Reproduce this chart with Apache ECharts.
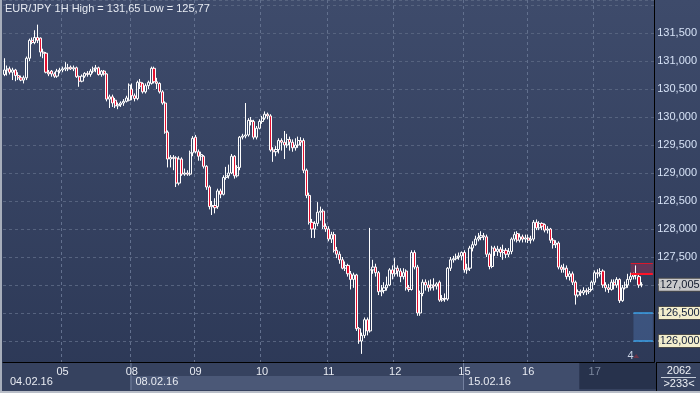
<!DOCTYPE html>
<html>
<head>
<meta charset="utf-8">
<script src="https://cdn.jsdelivr.net/npm/echarts@6/dist/echarts.min.js"></script>
<style>
html,body{margin:0;padding:0;background:#33405f;}
#c{width:700px;height:393px;}
</style>
</head>
<body>
<div id="c"></div>
<script>
// ---------- DATA ----------
const titleText = 'EUR/JPY 1H High = 131,65 Low = 125,77';
const dayNames = ['04','05','08','09','10','11','12','15','16','17'];
const weekStarts = ['04','08','15'];
const weekLabels = ['04.02.16','08.02.16','15.02.16'];
const paddingSlots = 4;
const lastPrice = 127.005;
const levelLines = [126.5, 126.0];
const redZone = [127.39, 127.2];
const footerTop = '2062';
const footerBottom = '>233<';
const markerCount = '4';

// each row: [open, close, low, high]
const day04 = [
[130.76,130.84,130.73,131.05],[130.84,130.86,130.74,130.92],[130.86,130.80,130.76,130.90],
[130.80,130.84,130.66,130.88],[130.84,130.74,130.64,130.86],[130.74,130.70,130.66,130.80],
[130.70,130.66,130.64,130.74],[130.66,130.70,130.60,130.74],[130.70,131.05,130.66,131.08],
[131.05,131.37,131.00,131.40],[131.37,131.33,131.30,131.42],[131.33,131.42,131.30,131.55],
[131.42,131.37,131.32,131.65],[131.41,131.16,131.08,131.42],[131.16,131.14,131.05,131.22],
[131.14,130.80,130.78,131.16],[130.80,130.77,130.73,130.84],[130.82,130.77,130.72,130.84],
[130.77,130.73,130.70,130.80],[130.73,130.82,130.70,130.86],[130.82,130.84,130.78,130.88]];
const day05 = [
[130.84,130.86,130.80,130.90],[130.86,130.88,130.82,130.98],[130.88,130.86,130.82,130.95],
[130.89,130.86,130.84,130.92],[130.86,130.88,130.82,130.92],[130.88,130.72,130.70,130.90],
[130.72,130.64,130.54,130.74],[130.64,130.73,130.62,130.76],[130.73,130.78,130.70,130.80],
[130.78,130.76,130.72,130.82],[130.76,130.82,130.72,130.86],[130.82,130.86,130.78,130.90],
[130.86,130.88,130.80,130.93],[130.88,130.76,130.74,130.90],[130.76,130.82,130.72,130.84],
[130.82,130.77,130.74,130.84],[130.77,130.32,130.28,130.78],[130.32,130.36,130.16,130.40],
[130.36,130.25,130.18,130.40],[130.30,130.20,130.16,130.34],[130.20,130.22,130.14,130.26],
[130.22,130.25,130.18,130.28],[130.25,130.28,130.20,130.32],[130.28,130.34,130.26,130.38],
[130.30,130.57,130.28,130.60]];
const day08 = [
[130.50,130.38,130.30,130.60],[130.38,130.33,130.28,130.42],[130.33,130.62,130.30,130.65],
[130.62,130.55,130.50,130.68],[130.60,130.45,130.42,130.62],[130.45,130.56,130.42,130.60],
[130.56,130.62,130.50,130.65],[130.60,130.87,130.58,130.90],[130.87,130.63,130.60,130.90],
[130.63,130.60,130.50,130.70],[130.60,130.45,130.42,130.62],[130.45,130.25,130.22,130.48],
[130.25,129.73,129.70,130.28],[129.73,129.25,129.10,129.76],[129.25,129.28,129.10,129.32],
[129.28,129.26,129.05,129.32],[129.27,128.82,128.75,129.30],[128.82,129.25,128.78,129.30],
[129.25,128.98,128.95,129.28],[128.98,129.00,128.95,129.08],[129.00,128.98,128.95,129.05],
[128.98,129.36,128.95,129.40],[129.36,129.62,129.30,129.66]];
const day09 = [
[129.64,129.38,129.35,129.68],[129.38,129.30,129.22,129.42],[129.30,129.33,129.22,129.38],
[129.30,129.12,129.08,129.32],[129.12,128.75,128.70,129.14],[128.75,128.40,128.35,128.78],
[128.40,128.42,128.25,128.50],[128.42,128.38,128.28,128.55],[128.40,128.68,128.36,128.72],
[128.68,128.62,128.55,128.72],[128.62,128.92,128.60,128.96],[128.92,128.95,128.88,129.11],
[128.95,129.00,128.90,129.15],[129.00,129.30,128.98,129.34],[129.30,128.95,128.90,129.32],
[128.95,129.10,128.92,129.14],[129.10,129.64,129.05,129.66],[129.64,129.66,129.60,129.70],
[129.66,129.68,129.62,130.25],[129.68,129.94,129.65,129.98],[129.94,129.92,129.85,130.00],
[129.92,129.64,129.60,129.95],[129.64,129.80,129.60,129.84],[129.80,129.92,129.78,129.96]];
const day10 = [
[129.92,129.98,129.88,130.02],[129.98,130.05,129.95,130.10],[130.05,130.02,129.96,130.08],
[130.02,129.41,129.38,130.05],[129.41,129.38,129.20,129.46],[129.38,129.42,129.30,129.48],
[129.42,129.58,129.35,129.62],[129.58,129.55,129.40,129.62],[129.55,129.50,129.25,129.75],
[129.50,129.60,129.45,129.70],[129.60,129.55,129.40,129.65],[129.55,129.45,129.38,129.60],
[129.45,129.50,129.40,129.62],[129.50,129.58,129.45,129.65],[129.58,129.55,129.48,129.64],
[129.58,129.05,129.00,129.62],[129.05,128.60,128.55,129.08],[128.60,128.12,128.08,128.65],
[128.12,128.00,127.84,128.18],[128.00,128.10,127.84,128.14],[128.10,128.30,128.05,128.48],
[128.30,128.32,128.15,128.40],[128.32,128.05,128.00,128.36],[128.05,128.00,127.95,128.10]];
const day11 = [
[128.00,127.82,127.78,128.05],[127.82,127.90,127.75,127.95],[127.90,127.62,127.58,127.95],
[127.62,127.55,127.48,127.68],[127.55,127.45,127.38,127.60],[127.45,127.30,127.28,127.50],
[127.30,127.35,127.25,127.42],[127.35,127.20,127.15,127.38],[127.20,127.10,126.92,127.25],
[127.10,127.18,126.95,127.22],[127.18,126.22,126.18,127.20],[126.22,126.00,125.95,126.25],
[126.00,126.10,125.77,126.15],[126.10,126.38,126.05,126.42],[126.38,126.18,126.10,126.42],
[126.18,127.27,126.15,128.02],[127.27,127.32,127.20,127.45],[127.32,127.22,127.15,127.38],
[127.22,126.88,126.82,127.25],[126.88,126.90,126.80,127.00],[126.90,126.95,126.85,127.05],
[126.95,127.00,126.90,127.15],[127.00,127.27,126.98,127.30],[127.27,127.20,127.10,127.35]];
const day12 = [
[127.20,127.30,127.15,127.48],[127.30,127.25,127.15,127.35],[127.25,127.15,127.05,127.30],
[127.15,127.22,127.10,127.30],[127.25,126.95,126.90,127.28],[126.95,126.92,126.88,127.00],
[126.92,127.58,126.90,127.62],[127.58,127.32,127.28,127.62],[127.32,126.50,126.45,127.36],
[126.50,126.85,126.45,126.90],[126.85,127.05,126.80,127.10],[127.05,127.00,126.90,127.10],
[127.00,126.95,126.88,127.08],[126.95,127.00,126.90,127.10],[127.00,126.98,126.90,127.12],
[126.98,127.02,126.92,127.05],[127.05,126.73,126.70,127.08],[126.73,126.76,126.70,126.82],
[126.76,126.75,126.70,126.85],[126.75,127.30,126.72,127.32],[127.30,127.45,127.25,127.50],
[127.45,127.47,127.40,127.52],[127.47,127.50,127.44,127.56],[127.50,127.52,127.45,127.58],
[127.52,127.58,127.44,127.60]];
const day15 = [
[127.58,127.27,127.22,127.62],[127.27,127.30,127.20,127.38],[127.30,127.66,127.25,127.70],
[127.66,127.72,127.60,127.78],[127.72,127.82,127.70,127.88],[127.82,127.85,127.78,127.93],
[127.85,127.88,127.80,127.96],[127.88,127.86,127.80,127.93],[127.86,127.55,127.50,127.90],
[127.55,127.33,127.28,127.58],[127.33,127.66,127.30,127.70],[127.66,127.60,127.52,127.70],
[127.60,127.64,127.52,127.70],[127.64,127.58,127.50,127.68],[127.58,127.62,127.45,127.72],
[127.62,127.55,127.48,127.66],[127.55,127.60,127.50,127.66],[127.60,127.82,127.55,127.85],
[127.82,127.90,127.78,127.95],[127.92,127.80,127.76,127.96],[127.80,127.86,127.76,127.92],
[127.86,127.82,127.76,127.90],[127.82,127.84,127.76,127.90]];
const day16 = [
[127.84,127.80,127.75,127.90],[127.80,127.82,127.74,127.88],[127.82,128.12,127.78,128.16],
[128.12,128.02,127.98,128.17],[128.02,128.10,127.98,128.14],[128.10,128.05,127.98,128.12],
[128.08,127.98,127.94,128.10],[127.98,128.00,127.92,128.05],[128.00,127.80,127.75,128.02],
[127.80,127.72,127.65,127.84],[127.72,127.75,127.66,127.80],[127.75,127.32,127.28,127.78],
[127.32,127.28,127.22,127.36],[127.28,127.30,127.22,127.38],[127.30,127.15,127.10,127.35],
[127.15,127.20,127.08,127.25],[127.20,127.05,127.00,127.24],[127.05,126.82,126.65,127.08],
[126.82,126.88,126.78,126.92],[126.88,126.86,126.80,126.92],[126.86,126.90,126.82,126.96],
[126.90,126.88,126.82,126.94],[126.88,126.92,126.84,126.96],[126.92,127.05,126.90,127.08]];
const day17 = [
[127.05,127.22,127.00,127.26],[127.22,127.20,127.12,127.28],[127.20,127.24,127.15,127.30],
[127.25,127.00,126.95,127.28],[127.00,126.95,126.88,127.05],[126.95,126.92,126.86,127.02],
[126.92,127.05,126.90,127.10],[127.05,127.00,126.92,127.10],[127.00,127.10,126.95,127.14],
[127.10,126.72,126.68,127.12],[126.72,126.95,126.70,127.00],[126.95,127.00,126.92,127.06],
[127.00,127.10,126.95,127.20],[127.10,127.15,127.05,127.22],[127.15,127.18,127.10,127.22],
[127.18,127.20,127.10,127.35],[127.15,127.00,126.95,127.18],[127.00,127.005,126.96,127.05]];

// ---------- BUILD ----------
const days = [day04, day05, day08, day09, day10, day11, day12, day15, day16, day17];
const categories = [];
const candles = [];
const dayStartIdx = {};
days.forEach((bars, d) => {
  dayStartIdx[categories.length] = dayNames[d];
  bars.forEach((b, k) => {
    categories.push(dayNames[d] + '.02.16 #' + k);
    candles.push(b);
  });
});
for (let k = 0; k < paddingSlots; k++) categories.push('pad' + k);
const lastIdx = categories.length - 1;
const lastBar = candles.length - 1;
const lastDayName = dayNames[dayNames.length - 1];
const isDayStart = i => i > 0 && dayStartIdx[i] !== undefined;
const fmt3 = v => v.toFixed(3).replace('.', ',');
const hiddenAxisVals = [127.0, 126.5, 126.0];
const yMin = 125.625, yMax = 132.09;

const FONT = 'Liberation Sans, Arial, sans-serif';
const GRID = {left: 3, right: 44, top: 0, bottom: 31};

const tagCream = {
  show: true, position: 'end', distance: 6,
  backgroundColor: '#f3eecd', borderColor: '#4a4a4a', borderWidth: 1,
  padding: [1, 1, 0, 1], color: '#14203c', fontSize: 11, fontFamily: FONT
};

const chart = echarts.init(document.getElementById('c'));
const option = {
  animation: false,
  backgroundColor: new echarts.graphic.LinearGradient(0, 0, 0, 1, [
    {offset: 0, color: '#3e4b6b'}, {offset: 1, color: '#2c3856'}
  ]),
  title: {
    text: titleText, left: 5, top: 3, padding: 0,
    textStyle: {color: '#e6eaf2', fontSize: 11, fontWeight: 'normal', fontFamily: FONT}
  },
  grid: GRID,
  xAxis: {
    type: 'category', data: categories, boundaryGap: true,
    axisLine: {show: true, lineStyle: {color: '#000000', width: 1}},
    axisTick: {show: false},
    axisLabel: {
      interval: (i) => isDayStart(i),
      formatter: (v) => {
        const d = v.slice(0, 2);
        return d === lastDayName ? '{dim|' + d + '}' : d;
      },
      color: '#e8ebf2', fontSize: 11, fontFamily: FONT, margin: 4,
      rich: {dim: {color: '#7d889f', fontSize: 11, fontFamily: FONT}}
    },
    splitLine: {
      show: true, interval: (i) => isDayStart(i),
      lineStyle: {color: '#62708e', type: [3, 3], width: 1}
    }
  },
  yAxis: {
    type: 'value', position: 'right', scale: true,
    min: yMin, max: yMax, minInterval: 0.5, maxInterval: 0.5,
    axisLine: {show: true, lineStyle: {color: '#000000', width: 1}},
    axisTick: {show: false},
    axisLabel: {
      color: '#d6e2f6', fontSize: 11, fontFamily: FONT, margin: 3,
      showMinLabel: false, showMaxLabel: false,
      formatter: (v) => (v > yMax - 0.3 || hiddenAxisVals.some(h => Math.abs(h - v) < 1e-6)) ? '' : fmt3(v)
    },
    splitLine: {show: true, lineStyle: {color: '#56637f', type: [3, 3], width: 1}}
  },
  series: [{
    type: 'candlestick',
    data: candles,
    barWidth: 2.6,
    itemStyle: {
      color: 'rgba(0,0,0,0)', color0: '#e3102f',
      borderColor: '#ffffff', borderColor0: '#ffffff', borderWidth: 1
    },
    markArea: {
      silent: true,
      data: [
        [{xAxis: lastBar - 4, yAxis: redZone[0], itemStyle: {color: 'rgba(200,40,80,0.32)'}},
         {xAxis: lastIdx, yAxis: redZone[1]}],
        [{xAxis: lastBar - 3, yAxis: levelLines[0], itemStyle: {color: 'rgba(80,120,180,0.40)'}},
         {xAxis: lastIdx, yAxis: levelLines[1]}]
      ]
    },
    markLine: {
      silent: true, symbol: ['none', 'none'],
      data: [
        [{coord: [lastBar - 4, redZone[0]], lineStyle: {color: '#d8182c', width: 1, type: 'solid'}, label: {show: false}},
         {coord: [lastIdx, redZone[0]]}],
        [{coord: [lastBar - 4, redZone[1]], lineStyle: {color: '#ff1428', width: 2, type: 'solid'}, label: {show: false}},
         {coord: [lastIdx, redZone[1]]}],
        [{coord: [lastBar - 3, levelLines[0]], lineStyle: {color: '#3a9fe6', width: 1.5, type: 'solid'},
          label: Object.assign({}, tagCream, {formatter: fmt3(levelLines[0])})},
         {coord: [lastIdx, levelLines[0]]}],
        [{coord: [lastBar - 3, levelLines[1]], lineStyle: {color: '#3a9fe6', width: 1.5, type: 'solid'},
          label: Object.assign({}, tagCream, {formatter: fmt3(levelLines[1])})},
         {coord: [lastIdx, levelLines[1]]}],
        [{coord: [lastBar, lastPrice], lineStyle: {color: 'rgba(0,0,0,0)', width: 1, type: 'solid'},
          label: Object.assign({}, tagCream, {formatter: fmt3(lastPrice), backgroundColor: '#c9c9cb', color: '#10182c'})},
         {coord: [lastIdx, lastPrice]}]
      ]
    }
  }]
};
chart.setOption(option);

// ---------- AXIS FURNITURE (positions derived from the axis) ----------
const W = 700, H = 393;
const band = (W - GRID.left - GRID.right) / categories.length;
const cx = i => chart.convertToPixel({xAxisIndex: 0}, i);
const bx = i => cx(i) - band / 2;
const py = v => chart.convertToPixel({yAxisIndex: 0}, v);
const gBottom = H - GRID.bottom;
const gRight = W - GRID.right;
const rowSplit = gBottom + 14;
const weekIdx = weekStarts.map(w => +Object.keys(dayStartIdx).find(k => dayStartIdx[k] === w));
const lastDayIdx = +Object.keys(dayStartIdx).find(k => dayStartIdx[k] === lastDayName);
const g = [];
// axis area background
g.push({type: 'rect', z: -20, shape: {x: 0, y: gBottom, width: W, height: H - gBottom}, style: {fill: '#36425f'}});
// week bands in second row
g.push({type: 'rect', z: -19, shape: {x: bx(weekIdx[1]), y: rowSplit, width: bx(weekIdx[2]) - bx(weekIdx[1]), height: H - 3 - rowSplit}, style: {fill: '#4b5877'}});
g.push({type: 'rect', z: -19, shape: {x: bx(weekIdx[2]), y: gBottom + 1, width: bx(lastDayIdx - 5) - bx(weekIdx[2]), height: H - 4 - gBottom}, style: {fill: '#404d6c'}});
g.push({type: 'rect', z: -19, shape: {x: bx(lastDayIdx - 5), y: gBottom + 1, width: gRight - bx(lastDayIdx - 5), height: H - 5 - gBottom}, style: {fill: '#27324c'}});
// week separators + labels
weekIdx.forEach((wi, k) => {
  if (k > 0) g.push({type: 'line', z: -18, shape: {x1: bx(wi) + 0.5, y1: gBottom, x2: bx(wi) + 0.5, y2: H - 3}, style: {stroke: '#7583a0', lineWidth: 1}});
  g.push({type: 'text', z: 30, x: bx(wi) + (k === 0 ? 7 : 5), y: rowSplit + 6,
    style: {text: weekLabels[k], fill: '#e8ebf2', font: '11px ' + FONT, verticalAlign: 'middle'}});
});
// extend frame lines
g.push({type: 'line', z: 30, shape: {x1: gRight, y1: gBottom + 0.5, x2: W, y2: gBottom + 0.5}, style: {stroke: '#000', lineWidth: 1}});
g.push({type: 'line', z: 30, shape: {x1: gRight + 0.5, y1: gBottom, x2: gRight + 0.5, y2: H}, style: {stroke: '#000', lineWidth: 1}});
// small arrow tips on the price tags
[levelLines[0], levelLines[1], lastPrice].forEach((v, k) => {
  const y = py(v);
  g.push({type: 'polygon', z: 50, shape: {points: [[gRight + 2, y], [gRight + 6, y - 4], [gRight + 6, y + 4]]},
    style: {fill: k < 2 ? '#f3eecd' : '#c9c9cb'}});
});
// outer border
g.push({type: 'rect', z: 40, shape: {x: 0, y: 0, width: 2, height: H}, style: {fill: '#a7aebb'}});
g.push({type: 'rect', z: 40, shape: {x: 0, y: H - 2, width: W, height: 2}, style: {fill: '#b9bec8'}});
// footer counters
const fx = (gRight + W) / 2 + 1;
g.push({type: 'text', z: 30, x: fx, y: gBottom + 9, style: {text: footerTop, fill: '#eef1f6', font: '11px ' + FONT, align: 'center', verticalAlign: 'middle'}});
g.push({type: 'line', z: 30, shape: {x1: gRight + 5, y1: gBottom + 15.5, x2: W - 4, y2: gBottom + 15.5}, style: {stroke: '#c5ccd8', lineWidth: 1}});
g.push({type: 'text', z: 30, x: fx, y: gBottom + 22, style: {text: footerBottom, fill: '#eef1f6', font: '11px ' + FONT, align: 'center', verticalAlign: 'middle'}});
// small marker count near the last bars
g.push({type: 'text', z: 30, x: cx(lastBar - 4), y: gBottom - 6, style: {text: markerCount, fill: '#c9d2e4', font: '11px ' + FONT, align: 'center', verticalAlign: 'middle'}});
g.push({type: 'polygon', z: 30, shape: {points: [[cx(lastBar - 2) - 3, gBottom - 4], [cx(lastBar - 2) + 3, gBottom - 4], [cx(lastBar - 2), gBottom - 8]]}, style: {fill: '#6b3448'}});
chart.setOption({graphic: g});
</script>
</body>
</html>
